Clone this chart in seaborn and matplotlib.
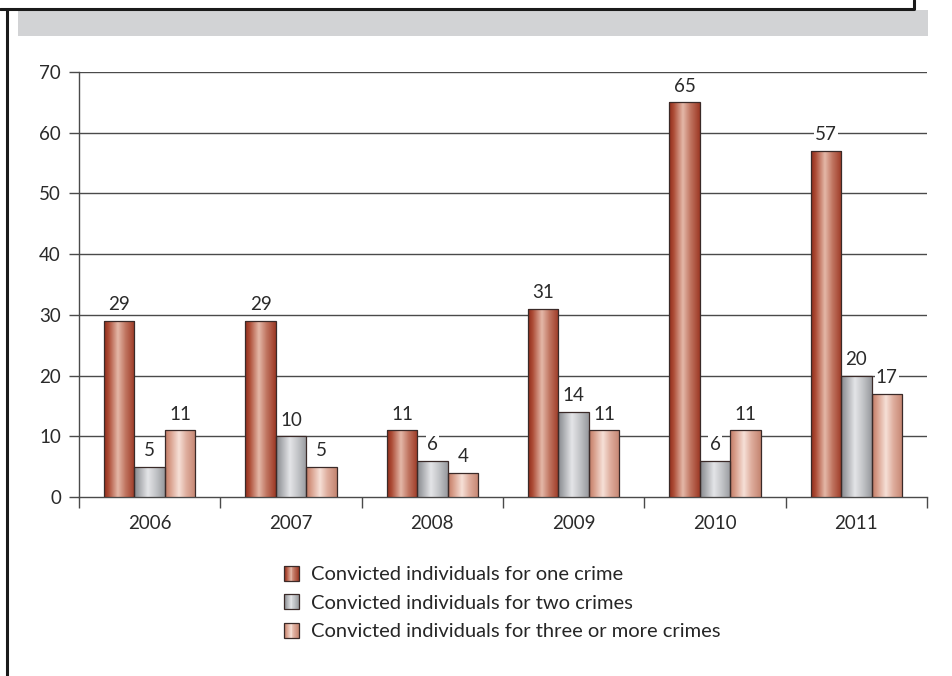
import numpy as np
import pandas as pd
import matplotlib
matplotlib.use("Agg")
import matplotlib.pyplot as plt
from matplotlib.colors import LinearSegmentedColormap
from matplotlib.lines import Line2D
from matplotlib.patches import Rectangle
from matplotlib.legend_handler import HandlerBase
import seaborn as sns

years = ["2006", "2007", "2008", "2009", "2010", "2011"]
one_crime = [29, 29, 11, 31, 65, 57]
two_crimes = [5, 10, 6, 14, 6, 20]
three_crimes = [11, 5, 4, 11, 11, 17]
series_names = ["Convicted individuals for one crime",
                "Convicted individuals for two crimes",
                "Convicted individuals for three or more crimes"]
y_ticks = [0, 10, 20, 30, 40, 50, 60, 70]

df = pd.DataFrame({
    "year": years * 3,
    "value": one_crime + two_crimes + three_crimes,
    "series": [series_names[0]] * 6 + [series_names[1]] * 6 + [series_names[2]] * 6,
})

mid_colors = ["#b8604a", "#b5b7bb", "#dea898"]
gradients = [
    ["#8f2c1a", "#ad4c36", "#e4b8a8", "#c07460", "#9c3824"],
    ["#85888d", "#a4a6aa", "#e4e5e8", "#c4c6c9", "#97999d"],
    ["#c07a64", "#d69a86", "#f6e0d7", "#deac9c", "#c48470"],
]
stops = [0.0, 0.15, 0.45, 0.7, 1.0]
cmaps = [LinearSegmentedColormap.from_list(f"g{i}", list(zip(stops, g))) for i, g in enumerate(gradients)]

sns.set_theme(style="white")
plt.rcParams["font.family"] = ["Lato", "DejaVu Sans"]

FS = 13.5
fig = plt.figure(figsize=(9.52, 6.76), dpi=100)
ax = fig.add_axes([79 / 952, 1 - 497 / 676, (927 - 79) / 952, (497 - 72) / 676])

sns.barplot(data=df, x="year", y="value", hue="series", palette=mid_colors,
            width=0.645, edgecolor="#3a2a28", linewidth=0.9, ax=ax,
            legend=False, saturation=1)

ax.set_xlim(-0.5, 5.5)
ax.set_ylim(0, 70)
ax.set_yticks(y_ticks)
ax.set_xlabel("")
ax.set_ylabel("")

# gridlines
for v in y_ticks[1:]:
    ax.axhline(v, color="#4a4a4a", lw=1.0, zorder=0)

# gradient fills
grad = np.linspace(0, 1, 256).reshape(1, -1)
for i, cont in enumerate(ax.containers):
    for bar in cont:
        x0, y0 = bar.get_x(), bar.get_y()
        w, h = bar.get_width(), bar.get_height()
        im = ax.imshow(grad, cmap=cmaps[i], aspect="auto",
                       extent=[x0, x0 + w, y0, y0 + h], zorder=2.9,
                       interpolation="bilinear")
        im.set_clip_path(bar)
        bar.set_facecolor("none")
        bar.set_zorder(3)
    labels = ax.bar_label(cont, padding=5.5, fontsize=FS, color="#2a2a2a")
    for t in labels:
        t.set_bbox(dict(facecolor="white", edgecolor="none", pad=0.8))
        t.set_zorder(5)
ax.set_xlim(-0.5, 5.5)
ax.set_ylim(0, 70)

for s in ["top", "right"]:
    ax.spines[s].set_visible(False)
for s in ["left", "bottom"]:
    ax.spines[s].set_color("#4a4a4a")
    ax.spines[s].set_linewidth(1.0)

ax.set_xticks(np.arange(-0.5, 6, 1), minor=True)
ax.tick_params(axis="x", which="major", length=0, pad=13, labelsize=FS, labelcolor="#2a2a2a")
ax.tick_params(axis="x", which="minor", length=8, width=1.0, color="#4a4a4a", direction="out", bottom=True)
ax.tick_params(axis="y", which="major", length=7, width=1.0, color="#4a4a4a", direction="out",
               left=True, pad=6, labelsize=FS, labelcolor="#2a2a2a")


class GradientHandler(HandlerBase):
    def __init__(self, cmap):
        super().__init__()
        self.cmap = cmap

    def create_artists(self, legend, orig_handle, xdescent, ydescent, width, height, fontsize, trans):
        arts = []
        n = 16
        for k in range(n):
            c = self.cmap((k + 0.5) / n)
            arts.append(Rectangle((-xdescent + width * k / n, -ydescent), width / n + 0.05, height,
                                  facecolor=c, edgecolor="none", transform=trans))
        arts.append(Rectangle((-xdescent, -ydescent), width, height, facecolor="none",
                              edgecolor="#3a2a28", linewidth=0.9, transform=trans))
        return arts


handles = [Rectangle((0, 0), 1, 1, facecolor=c, edgecolor="#3a2a28", linewidth=0.9) for c in mid_colors]
handler_map = {h: GradientHandler(cm) for h, cm in zip(handles, cmaps)}
fig.legend(handles, series_names, loc="upper left", bbox_to_anchor=(284 / 952, 1 - 566 / 676),
           frameon=False, fontsize=14.5, handlelength=0.75, handleheight=0.75,
           handletextpad=0.6, labelspacing=0.55, borderaxespad=0, borderpad=0,
           handler_map=handler_map)

# page decorations
fig.patches.append(Rectangle((18 / 952, 1 - 36 / 676), (928 - 18) / 952, 26 / 676,
                             transform=fig.transFigure, facecolor="#d2d3d5", edgecolor="none", zorder=0))
fig.lines.append(Line2D([0, 914 / 952, 914 / 952], [1 - 9 / 676, 1 - 9 / 676, 1.0],
                        transform=fig.transFigure, color="#1a1a1a", lw=2.2))
fig.lines.append(Line2D([7 / 952, 7 / 952], [1 - 9 / 676, 0],
                        transform=fig.transFigure, color="#1a1a1a", lw=2.2))

fig.savefig("out.png", dpi=100)
